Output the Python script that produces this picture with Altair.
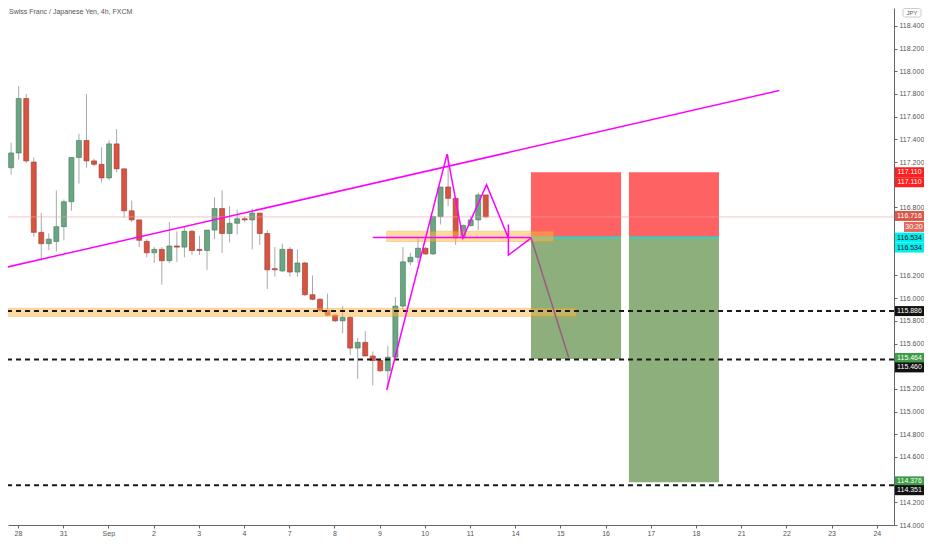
import json
import altair as alt
import pandas as pd

TITLE = "Swiss Franc / Japanese Yen, 4h, FXCM"
FONT = "Liberation Sans"

# ---- 4h candles (bar index 0..64) ----
opens = [117.23, 117.15, 117.28, 117.76, 117.20, 116.58, 116.48, 116.50, 116.63, 116.85,
         117.24, 117.39, 117.21, 117.18, 117.06, 117.36, 117.14, 116.77, 116.69, 116.50,
         116.40, 116.43, 116.33, 116.46, 116.45, 116.59, 116.43, 116.42, 116.60, 116.79,
         116.57, 116.66, 116.70, 116.69, 116.75, 116.57, 116.26, 116.24, 116.43, 116.23,
         116.31, 116.03, 115.99, 115.89, 115.85, 115.80, 115.83, 115.56, 115.61, 115.49,
         115.45, 115.36, 115.48, 115.93, 116.32, 116.36, 116.44, 116.39, 116.72, 116.98,
         116.88, 116.53, 116.64, 116.69, 116.91]
closes = [117.15, 117.28, 117.76, 117.21, 116.58, 116.48, 116.52, 116.63, 116.85, 117.24,
          117.39, 117.21, 117.18, 117.06, 117.36, 117.14, 116.77, 116.69, 116.51, 116.40,
          116.43, 116.33, 116.46, 116.45, 116.59, 116.42, 116.42, 116.60, 116.79, 116.57,
          116.66, 116.70, 116.69, 116.75, 116.57, 116.25, 116.25, 116.43, 116.23, 116.31,
          116.03, 115.99, 115.89, 115.85, 115.80, 115.83, 115.56, 115.61, 115.49, 115.45,
          115.36, 115.48, 115.93, 116.32, 116.36, 116.44, 116.39, 116.72, 116.98, 116.88,
          116.53, 116.64, 116.69, 116.91, 116.716]
highs = [117.30, 117.37, 117.87, 117.80, 117.24, 116.75, 116.57, 116.95, 116.87, 117.24,
         117.45, 117.80, 117.23, 117.33, 117.39, 117.49, 117.14, 116.86, 116.69, 116.52,
         116.45, 116.45, 116.67, 116.59, 116.63, 116.60, 116.55, 116.60, 116.89, 116.95,
         116.81, 116.78, 116.72, 116.79, 116.75, 116.60, 116.45, 116.48, 116.45, 116.43,
         116.32, 116.20, 116.00, 116.04, 115.86, 115.93, 115.84, 115.65, 115.71, 115.53,
         115.47, 115.58, 116.01, 116.45, 116.40, 116.54, 116.45, 116.73, 116.98, 117.26,
         116.88, 116.65, 116.73, 116.93, 116.91]
lows = [117.13, 117.09, 117.22, 117.19, 116.54, 116.33, 116.42, 116.41, 116.51, 116.77,
        117.01, 117.15, 117.16, 117.02, 117.04, 117.11, 116.71, 116.67, 116.45, 116.36,
        116.31, 116.12, 116.31, 116.32, 116.36, 116.38, 116.38, 116.25, 116.52, 116.40,
        116.49, 116.56, 116.67, 116.43, 116.47, 116.08, 116.19, 116.23, 116.19, 116.19,
        116.02, 115.98, 115.88, 115.84, 115.79, 115.69, 115.50, 115.29, 115.49, 115.23,
        115.35, 115.21, 115.47, 115.90, 116.29, 116.31, 116.38, 116.38, 116.65, 116.81,
        116.47, 116.52, 116.63, 116.60, 116.71]

# ---- axes ----
day_labels = ["28", "31", "Sep", "2", "3", "4", "7", "8", "9", "10", "11",
              "14", "15", "16", "17", "18", "21", "22", "23", "24"]
first_day_bar = 1.9
bars_per_day = 6
# ticks hidden behind price labels (117.0, 116.6, 116.4, 115.4, 114.4) are left out
price_ticks = [114.0, 114.2, 114.6, 114.8, 115.0, 115.2, 115.6, 115.8,
               116.0, 116.2, 116.8, 117.2, 117.4, 117.6, 117.8,
               118.0, 118.2, 118.4]

# ---- drawings (bar index, price) ----
trend_t = [0.2, 102.95]
trend_p = [116.27, 117.83]
zig_t = [50.85, 58.86, 60.96, 64.1, 67.0, 67.0, 67.0, 70.0]
zig_p = [115.19, 117.27, 116.53, 117.00, 116.53, 116.65, 116.38, 116.53]
entry_line_t = [49.0, 70.0]
proj_t = [70.0, 75.0]
proj_p = [116.534, 115.476]
zone_t0 = [0.0, 50.85]
zone_t1 = [76.05, 73.0]
zone_lo = [115.84, 116.50]
zone_hi = [115.91, 116.59]
pos_t0 = [70.0, 83.0]
pos_t1 = [81.96, 94.95]
entry = 116.534
stop = 117.110
targets = [115.464, 114.376]
hlines = [115.886, 115.460, 114.351]
last_price = 116.716

# ---- price labels on the scale ----
lab_text = ["117.110", "117.110", "116.716", "30:20", "116.534", "116.534",
            "115.886", "115.464", "115.460", "114.376", "114.351"]
lab_price = [117.110, 117.110, 116.716, 116.716, 116.534, 116.534,
             115.886, 115.464, 115.460, 114.376, 114.351]
lab_bg = ["#ff1e1e", "#ff1e1e", "#d9574a", "#e0685c", "#00f0f0", "#00f0f0",
          "#111111", "#3f9b46", "#111111", "#3f9b46", "#111111"]
lab_fg = ["#ffffff", "#ffffff", "#ffffff", "#ffffff", "#111111", "#111111",
          "#ffffff", "#ffffff", "#ffffff", "#ffffff", "#ffffff"]
lab_off = [0, 10, -1, 10, 0, 10, 0, -1, 8, -1, 5]

W, H = 886, 517
RIGHT = 30
UP, DOWN = "#6ba583", "#d75442"

xs = alt.Scale(domain=[1.247, 1.247 + W / 7.62], nice=False, zero=False)
ys = alt.Scale(domain=[114.0, 118.558], nice=False, zero=False)

day_ticks = [first_day_bar + bars_per_day * k for k in range(len(day_labels))]
label_expr = "%s[round((datum.value - %s) / %s)]" % (json.dumps(day_labels), first_day_bar, bars_per_day)

xaxis = alt.Axis(values=day_ticks, labelExpr=label_expr, title=None, grid=False,
                 domainColor="#666666", tickColor="#666666", tickSize=3,
                 labelFontSize=7, labelColor="#555555", labelFont=FONT,
                 labelPadding=1, labelOverlap=False, labelFlush=False)
yaxis = alt.Axis(orient="right", values=price_ticks, format=".3f", title=None, grid=False,
                 domainColor="#666666", tickColor="#666666", tickSize=3,
                 labelFontSize=7, labelColor="#555555", labelFont=FONT,
                 labelPadding=2, labelOverlap=False, labelFlush=False)


def X(f):
    return alt.X(f, type="quantitative", scale=xs, axis=xaxis)


def Y(f):
    return alt.Y(f, type="quantitative", scale=ys, axis=yaxis)


candles = pd.DataFrame({"t": list(range(len(opens))), "open": opens, "close": closes,
                        "high": highs, "low": lows})
candles["dir"] = ["up" if c >= o else "down" for o, c in zip(opens, closes)]

color_scale = alt.Scale(domain=["up", "down"], range=[UP, DOWN])
stroke_scale = alt.Scale(domain=["up", "down"], range=["#3f7a57", "#9e3528"])

wicks = alt.Chart(candles).mark_rule(clip=True, color="#a9a9a9", strokeWidth=1).encode(
    x=X("t"), y=Y("low"), y2="high")
bodies = alt.Chart(candles).mark_bar(clip=True, size=5, orient="vertical", strokeWidth=0.6).encode(
    x=X("t"), y=Y("open"), y2="close",
    color=alt.Color("dir:N", scale=color_scale, legend=None),
    stroke=alt.Stroke("dir:N", scale=stroke_scale, legend=None))

# position tool
pos_df = pd.DataFrame({"t0": pos_t0, "t1": pos_t1, "entry": [entry] * 2,
                       "stop": [stop] * 2, "target": targets})
risk = alt.Chart(pos_df).mark_rect(clip=True, color="#ff6262").encode(
    x=X("t0"), x2="t1", y=Y("stop"), y2="entry")
reward = alt.Chart(pos_df).mark_rect(clip=True, color="#8daf7c").encode(
    x=X("t0"), x2="t1", y=Y("entry"), y2="target")
entry_rule = alt.Chart(pos_df).mark_rule(clip=True, color="#22d8d0", strokeWidth=2).encode(
    x=X("t0"), x2="t1", y=Y("entry"))

zones_df = pd.DataFrame({"t0": zone_t0, "t1": zone_t1, "lo": zone_lo, "hi": zone_hi})
zones = alt.Chart(zones_df).mark_rect(clip=True, color="#ffb74d", opacity=0.5,
                                      stroke="#f39c12", strokeWidth=1, strokeOpacity=0.9).encode(
    x=X("t0"), x2="t1", y=Y("hi"), y2="lo")

last_line = alt.Chart(pd.DataFrame({"p": [last_price]})).mark_rule(
    color="#f2a0a0", strokeWidth=1, opacity=0.6).encode(y=Y("p"))

dashed = alt.Chart(pd.DataFrame({"p": hlines})).mark_rule(
    color="#1a1a1a", strokeWidth=2, strokeDash=[5, 4]).encode(y=Y("p"))

trend = alt.Chart(pd.DataFrame({"t": trend_t, "p": trend_p})).mark_line(
    clip=True, color="#ff00ff", strokeWidth=1.5).encode(x=X("t"), y=Y("p"))
zig = alt.Chart(pd.DataFrame({"t": zig_t, "p": zig_p, "o": list(range(len(zig_t)))})).mark_line(
    clip=True, color="#ff00ff", strokeWidth=1.5).encode(x=X("t"), y=Y("p"), order="o:Q")
entry_ln = alt.Chart(pd.DataFrame({"t": entry_line_t, "p": [entry] * 2})).mark_line(
    clip=True, color="#ff00ff", strokeWidth=1.5).encode(x=X("t"), y=Y("p"))
proj = alt.Chart(pd.DataFrame({"t": proj_t, "p": proj_p})).mark_line(
    clip=True, color="#9b5b84", strokeWidth=1.5).encode(x=X("t"), y=Y("p"))

title = alt.Chart(pd.DataFrame({"s": [TITLE]})).mark_text(
    align="left", baseline="middle", fontSize=7, font=FONT, color="#555555").encode(
    x=alt.value(1), y=alt.value(4), text="s:N")

jpy_box = alt.Chart(pd.DataFrame({"s": ["JPY"]})).mark_rect(
    fill="#ffffff", stroke="#cccccc", strokeWidth=1, cornerRadius=2).encode(
    x=alt.value(W + 9), x2=alt.value(W + 27), y=alt.value(0.5), y2=alt.value(9))
jpy_txt = alt.Chart(pd.DataFrame({"s": ["JPY"]})).mark_text(
    align="center", baseline="middle", fontSize=6, font=FONT, color="#555555").encode(
    x=alt.value(W + 18), y=alt.value(5), text="s:N")

label_layers = []
for txt, p, bg, fg, off in zip(lab_text, lab_price, lab_bg, lab_fg, lab_off):
    df = pd.DataFrame({"p": [p], "s": [txt]})
    x0 = W + 10 if txt == "30:20" else W + 1
    x1 = W + RIGHT
    label_layers.append(alt.Chart(df).mark_rect(
        color=bg, yOffset=off - 5, y2Offset=off + 5).encode(
        x=alt.value(x0), x2=alt.value(x1), y=Y("p"), y2="p"))
    label_layers.append(alt.Chart(df).mark_text(
        align="center", baseline="middle", fontSize=7, font=FONT, color=fg, yOffset=off).encode(
        x=alt.value((x0 + x1) / 2), y=Y("p"), text="s:N"))

chart = alt.layer(
    wicks, bodies, risk, reward, entry_rule, zones, last_line, dashed,
    trend, zig, entry_ln, proj, title, jpy_box, jpy_txt, *label_layers
).properties(
    width=W, height=H,
    autosize=alt.AutoSizeParams(type="none"),
    padding={"left": 0, "top": 0, "right": RIGHT, "bottom": 12},
    background="#ffffff",
).configure_view(stroke=None)

chart.save("out.html", embed_options={"renderer": "svg", "actions": False})
